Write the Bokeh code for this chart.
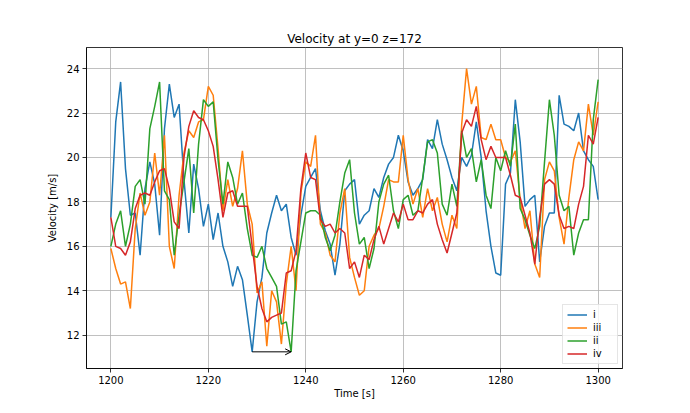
from bokeh.plotting import figure
from bokeh.models import Range1d, FixedTicker, Legend, LegendItem, Arrow, OpenHead
from bokeh.embed import file_html
from bokeh.resources import INLINE

# ---- data (1 s resolution) ----
time = list(range(1200, 1301))

vel_i = [
    17.3, 21.6, 23.4, 19.5, 17.4, 17.5, 15.6, 18.6, 19.8, 18.8,
    16.5, 21.3, 23.3, 21.8, 22.4, 19.0, 16.6, 19.7, 18.6, 16.9,
    17.9, 16.3, 17.5, 16.0, 15.3, 14.2, 15.1, 14.5, 12.9, 11.25,
    13.5, 14.6, 16.6, 17.5, 18.3, 17.6, 17.9, 16.4, 15.6, 17.4,
    18.7, 19.1, 19.5, 17.6, 16.7, 16.1, 14.7, 16.1, 18.5, 18.8,
    19.0, 17.0, 17.4, 17.6, 18.6, 18.2, 19.1, 19.7, 20.0, 21.0,
    20.3, 18.9, 18.3, 18.6, 19.0, 20.8, 20.4, 21.7, 20.6, 19.9,
    19.1, 18.5, 20.0, 19.6, 20.1, 21.6, 20.0, 17.6, 16.0, 14.8,
    14.7, 18.8, 19.3, 22.6, 20.7, 17.8, 18.1, 18.3, 15.3, 16.9,
    17.5, 17.5, 22.8, 21.5, 21.4, 21.2, 22.0, 20.3, 19.9, 19.6, 18.1,
]

vel_iii = [
    15.9, 15.0, 14.3, 14.4, 13.2, 16.8, 18.4, 17.4, 18.0, 20.2,
    18.3, 21.0, 16.0, 15.0, 18.3, 20.2, 21.2, 20.9, 21.6, 21.7,
    23.2, 22.8, 20.4, 17.6, 19.0, 17.8, 18.6, 20.3, 17.9, 17.0,
    13.9, 14.4, 11.5, 14.0, 13.5, 11.6, 14.3, 16.0, 14.0, 18.4,
    19.8, 19.6, 21.0, 17.0, 16.6, 15.6, 15.3, 17.5, 18.6, 15.5,
    14.6, 13.8, 14.0, 16.0, 16.5, 16.8, 17.8, 19.0, 18.9, 18.9,
    21.0, 19.0, 17.9, 18.6, 17.3, 18.6, 17.6, 18.2, 17.0, 16.2,
    17.4, 16.8, 21.5, 24.0, 22.4, 23.2, 20.9, 20.8, 21.5, 20.8,
    20.8, 20.0, 19.8, 20.3, 18.1, 16.8, 17.6, 15.2, 14.6, 19.0,
    19.8, 19.4, 17.3, 16.1, 18.2, 19.9, 20.7, 20.3, 22.4, 21.0, 22.5,
]

vel_ii = [
    16.0, 17.0, 17.6, 16.0, 17.0, 18.7, 19.0, 17.9, 21.3, 22.3,
    23.4, 18.5, 18.1, 15.6, 17.4, 18.9, 20.4, 17.5, 20.6, 22.6,
    22.3, 22.5, 19.9, 17.9, 19.8, 19.1, 17.9, 18.4, 16.8, 15.6,
    15.5, 16.0, 15.0, 14.6, 14.2, 12.5, 12.6, 11.25, 14.9, 16.2,
    17.5, 17.6, 17.6, 17.4, 16.4, 15.8, 16.5, 18.0, 19.3, 19.9,
    17.5, 16.1, 16.4, 15.0, 15.9, 18.0, 18.8, 19.2, 17.6, 16.8,
    18.1, 18.3, 17.4, 17.6, 19.1, 20.7, 20.8, 20.2, 17.9, 17.4,
    18.8, 17.8, 21.2, 20.0, 20.4, 18.9, 19.9, 18.3, 17.7, 20.0,
    19.4, 20.3, 19.6, 21.5, 17.7, 17.2, 16.5, 15.9, 16.9, 19.8,
    22.6, 21.0, 18.3, 17.6, 17.8, 15.6, 16.6, 17.2, 17.2, 21.7, 23.5,
]

vel_iv = [
    17.3, 16.0, 15.9, 15.6, 16.2, 17.7, 18.3, 18.4, 18.3, 18.9,
    19.4, 19.5, 18.6, 17.1, 16.8, 20.0, 21.4, 22.1, 21.8, 21.7,
    21.2, 20.5, 19.0, 17.3, 18.4, 18.5, 17.8, 17.8, 17.8, 16.0,
    14.2, 13.2, 12.6, 12.8, 12.9, 13.0, 14.8, 14.9, 15.8, 18.6,
    20.2, 19.1, 19.0, 17.2, 16.9, 17.0, 16.6, 16.8, 16.6, 15.0,
    15.3, 14.6, 15.6, 15.4, 16.3, 16.9, 16.1, 16.8, 17.5, 17.1,
    17.9, 17.2, 17.2, 17.6, 17.5, 17.9, 18.1, 17.0, 16.3, 15.7,
    16.6, 17.5, 21.1, 21.7, 21.4, 22.3, 20.8, 19.9, 20.5, 20.0,
    20.0, 20.0, 19.2, 18.3, 18.2, 17.4, 16.6, 15.2, 17.3, 18.8,
    19.0, 18.8, 17.4, 16.8, 16.9, 16.8, 17.9, 18.7, 21.0, 20.6, 21.8,
]

series_labels = ["i", "iii", "ii", "iv"]
series_colors = ["#1f77b4", "#ff7f0e", "#2ca02c", "#d62728"]
x_ticks = [1200, 1220, 1240, 1260, 1280, 1300]
y_ticks = [12, 14, 16, 18, 20, 22, 24]

FONT = "DejaVu Sans"

p = figure(width=682, height=405, output_backend="svg", toolbar_location=None,
           x_range=Range1d(1195, 1305), y_range=Range1d(10.5, 24.95),
           min_border_left=86, min_border_right=60, min_border_top=47,
           min_border_bottom=37)

p.title.text = "Velocity at y=0 z=172"
p.title.align = "center"
p.title.text_font = FONT
p.title.text_font_size = "12px"
p.title.text_font_style = "normal"
p.title.text_color = "black"
p.title.standoff = 4

p.background_fill_color = "white"
p.border_fill_color = "white"
p.outline_line_color = "black"
p.outline_line_width = 0.8

p.grid.grid_line_color = "#b0b0b0"
p.grid.grid_line_width = 0.8

p.xaxis.ticker = FixedTicker(ticks=x_ticks)
p.yaxis.ticker = FixedTicker(ticks=y_ticks)
p.xaxis.axis_label = "Time [s]"
p.yaxis.axis_label = "Velocity [m/s]"
for ax in p.axis:
    ax.axis_line_color = "black"
    ax.axis_line_width = 0.8
    ax.major_tick_line_color = "black"
    ax.major_tick_line_width = 0.8
    ax.major_tick_in = 0
    ax.major_tick_out = 4
    ax.minor_tick_line_color = None
    ax.major_label_text_font = FONT
    ax.major_label_text_font_size = "10px"
    ax.major_label_text_color = "black"
    ax.axis_label_text_font = FONT
    ax.axis_label_text_font_size = "10px"
    ax.axis_label_text_font_style = "normal"
    ax.axis_label_text_color = "black"
    ax.major_label_standoff = 3
p.xaxis.axis_label_standoff = 1
p.yaxis.axis_label_standoff = 6

all_series = [vel_i, vel_iii, vel_ii, vel_iv]
items = []
for lbl, col, vals in zip(series_labels, series_colors, all_series):
    r = p.line(time, vals, line_color=col, line_width=1.5)
    items.append(LegendItem(label=lbl, renderers=[r]))

# arrow between the minimum of series i and the minimum of series ii
ib = vel_i.index(min(vel_i))
ig = vel_ii.index(min(vel_ii))
p.add_layout(Arrow(end=OpenHead(size=6, line_color="black", line_width=1),
                   x_start=time[ib], y_start=vel_i[ib],
                   x_end=time[ig], y_end=vel_ii[ig],
                   line_color="black", line_width=1))

legend = Legend(items=items, location="bottom_right")
legend.label_text_font = FONT
legend.label_text_font_size = "10px"
legend.label_text_color = "black"
legend.glyph_width = 20
legend.glyph_height = 11
legend.label_height = 11
legend.label_standoff = 6
legend.spacing = 2
legend.padding = 4
legend.margin = 4
legend.border_line_color = "#cccccc"
legend.border_line_width = 1
legend.background_fill_alpha = 0.8
p.add_layout(legend)

open("out.html", "w").write(file_html(p, INLINE))
